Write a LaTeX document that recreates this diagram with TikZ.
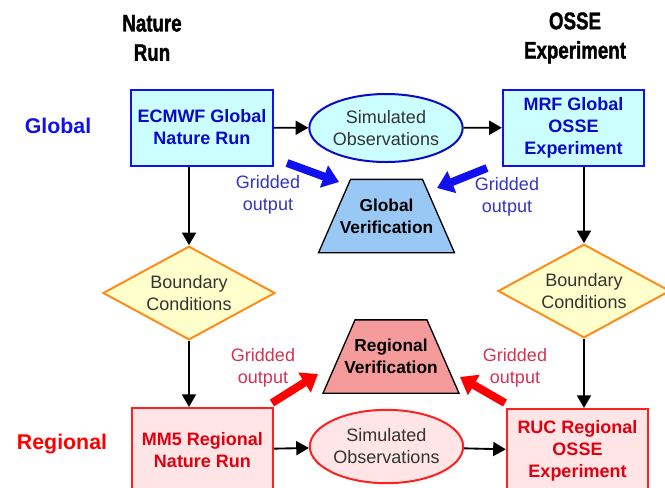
\documentclass[tikz,border=0pt]{standalone}
\usepackage{fontspec}
\setmainfont{Liberation Sans}
\newfontfamily\headfont[FakeStretch=0.78, FakeBold=1.5]{Liberation Sans Bold}
\usetikzlibrary{shapes.geometric, arrows.meta}
\definecolor{boxblue}{HTML}{0A0AC8}
\definecolor{lineblue}{HTML}{1010F0}
\definecolor{cyanfill}{HTML}{CCFFFF}
\definecolor{verblue}{HTML}{99C8F5}
\definecolor{condfill}{HTML}{FFFFCC}
\definecolor{condline}{HTML}{FF8C1A}
\definecolor{pinkfill}{HTML}{FFE5E5}
\definecolor{boxred}{HTML}{E00010}
\definecolor{linered}{HTML}{FF2020}
\definecolor{verred}{HTML}{F59B9B}
\definecolor{gridblue}{HTML}{3535C0}
\definecolor{gridred}{HTML}{D33355}
\definecolor{softtext}{HTML}{333333}

\begin{document}
\begin{tikzpicture}[
    x=0.75pt, y=-0.75pt,
    every node/.style={align=center},
    head/.style={font=\headfont\fontsize{18}{22}\selectfont},
    level/.style={font=\bfseries\fontsize{16}{19}\selectfont},
    gbox/.style={draw=lineblue, line width=1.5pt, fill=cyanfill, minimum width=106pt, minimum height=57pt, text=boxblue, font=\bfseries\fontsize{13.5}{16.5}\selectfont},
    rbox/.style={gbox, draw=linered, fill=pinkfill, text=boxred, minimum height=63pt},
    obs/.style={draw=boxblue, line width=1.5pt, fill=cyanfill, ellipse, inner sep=0pt, minimum width=115pt, minimum height=51pt, text=softtext, font=\fontsize{13.5}{16.5}\selectfont},
    verif/.style={draw, line width=1pt, fill=verblue, trapezium, trapezium stretches=true, trapezium angle=66, minimum width=102pt, minimum height=55pt},
    vtext/.style={font=\bfseries\fontsize{13}{16.5}\selectfont},
    cond/.style={draw=condline, line width=1.5pt, fill=condfill, diamond, inner sep=-5pt, minimum width=129pt, minimum height=52pt, text=softtext, font=\fontsize{13.5}{16.5}\selectfont},
    grid/.style={font=\fontsize{13.5}{16.5}\selectfont},
    flow/.style={-{Triangle[width=10.5pt,length=9.5pt]}, line width=1.4pt},
    fat/.style={line width=6pt, -{Triangle[width=17pt,length=12pt]}}
  ]
    \useasboundingbox[fill=white] (0,0) rectangle (665,487);

    % column and row headings
    \node[head] (nathead) at (152,38) {Nature\\Run};
    \node[head] (ossehead) at (575,38) {OSSE\\Experiment};
    \node[level, text=lineblue] (globlab) at (58,126) {Global};
    \node[level, text=red] (reglab) at (62,444) {Regional};

    % global row
    \node[gbox] (ecmwf) at (202,127.5) {ECMWF Global\\Nature Run};
    \node[obs] (simtop) at (386,128) {Simulated\\Observations};
    \node[gbox] (mrf) at (573.5,127.5) {MRF Global\\OSSE\\Experiment};
    \node[verif] (globver) at (386.5,216) {};
    \node[vtext] (globvertext) at (globver) {Global\\Verification};
    \node[grid, text=gridblue] (gridgl) at (268,195) {Gridded\\output};
    \node[grid, text=gridblue] (gridgr) at (507,197) {Gridded\\output};

    % boundary conditions
    \node[cond] (bcl) at (189,293) {Boundary\\Conditions};
    \node[cond] (bcr) at (584,291) {Boundary\\Conditions};

    % regional row
    \node[verif, fill=verred] (regver) at (391,356.5) {};
    \node[vtext] (regvertext) at (regver) {Regional\\Verification};
    \node[grid, text=gridred] (gridrl) at (263,368) {Gridded\\output};
    \node[grid, text=gridred] (gridrr) at (515,368) {Gridded\\output};
    \node[rbox] (mm5) at (202.5,450) {MM5 Regional\\Nature Run};
    \node[obs, draw=linered, fill=pinkfill, minimum height=55pt] (simbot) at (386.5,446.5) {Simulated\\Observations};
    \node[rbox] (ruc) at (577.5,451) {RUC Regional\\OSSE\\Experiment};

    % flow
    \draw[flow] (ecmwf) -- (simtop);
    \draw[flow] (simtop) -- (mrf);
    \draw[flow] (ecmwf.south -| bcl) -- (bcl.north);
    \draw[flow] (bcl.south) -- (bcl |- mm5.north);
    \draw[flow] (mrf.south -| bcr) -- (bcr.north);
    \draw[flow] (bcr.south) -- (bcr |- ruc.north);
    \draw[flow] (mm5) -- (simbot);
    \draw[flow] (simbot) -- (ruc);

    % gridded output arrows
    \coordinate (gbl1) at (287,163);
    \coordinate (gbl2) at (339,182);
    \coordinate (gbr1) at (487,168);
    \coordinate (gbr2) at (437,188);
    \coordinate (grl1) at (272,403);
    \coordinate (grl2) at (318,374);
    \coordinate (grr1) at (505,403);
    \coordinate (grr2) at (460,377);
    \draw[fat, lineblue] (gbl1) -- (gbl2);
    \draw[fat, lineblue] (gbr1) -- (gbr2);
    \draw[fat, red] (grl1) -- (grl2);
    \draw[fat, red] (grr1) -- (grr2);
\end{tikzpicture}
\end{document}
